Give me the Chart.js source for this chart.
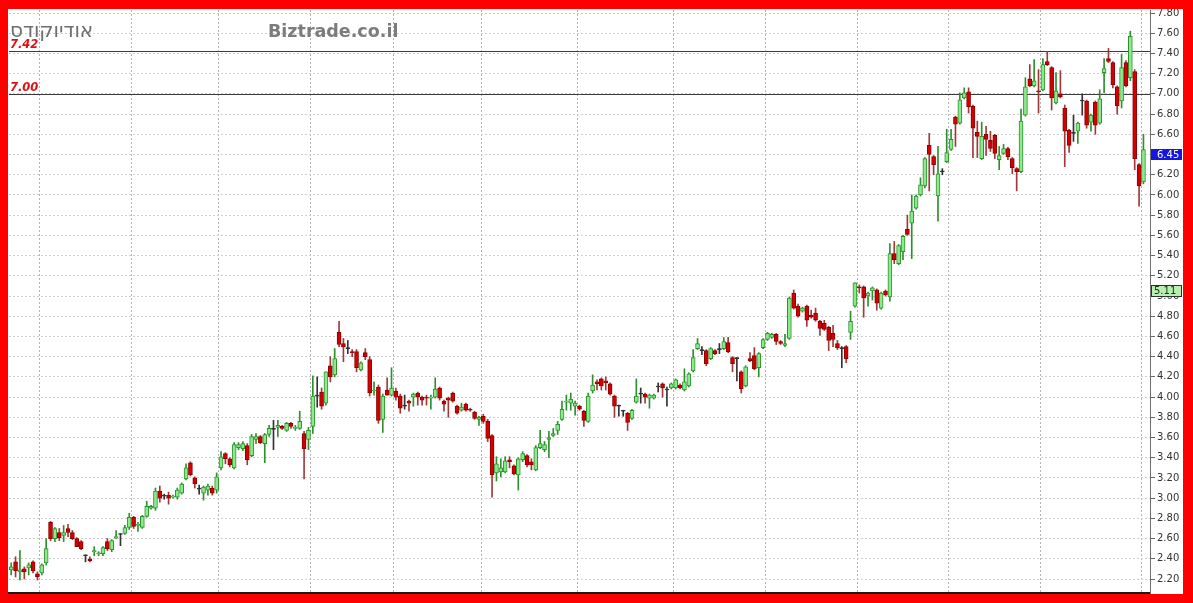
<!DOCTYPE html>
<html>
<head>
<meta charset="utf-8">
<script src="https://cdn.jsdelivr.net/npm/chart.js@4.4.1/dist/chart.umd.min.js"></script>
<style>
  html, body { margin: 0; padding: 0; }
  body { width: 1193px; height: 603px; background: #ff0000; position: relative; overflow: hidden; }
  #frame { position: absolute; left: 8px; top: 9px; width: 1175px; height: 585px; background: #fff; }
  #chart { position: absolute; left: 0; top: 0; }
  .title { position: absolute; top: 11px; font-size: 20px; line-height: 20px; color: #6e6e6e; font-family: "DejaVu Sans", sans-serif; white-space: nowrap; }
  #name { left: 2px; }
  #site { left: 260px; top: 12px; font-weight: bold; font-size: 17.5px; color: #7c7c7c; }
</style>
</head>
<body>
<div id="frame">
  <canvas id="chart" width="1175" height="585"></canvas>
  <div class="title" id="name" dir="rtl">אודיוקודס</div>
  <div class="title" id="site">Biztrade.co.il</div>
</div>
<script>
// daily candles, oldest first
const opens = [
  2.29,2.37,2.27,2.30,2.31,2.37,2.25,2.26,2.36,2.76, 2.60,2.66,2.63,2.70,2.66,2.60,2.57,2.43,2.40,2.47,
  2.45,2.45,2.57,2.49,2.61,2.64,2.65,2.71,2.81,2.73, 2.71,2.82,2.90,2.90,3.07,3.02,3.03,3.01,3.01,3.05,
  3.19,3.35,3.20,3.09,3.05,
  3.08,3.10,3.08,3.30,3.44,3.39,3.30,3.50,3.49,3.52, 3.42,3.58,3.61,3.54,3.63,3.68,3.70,3.71,3.67,3.74,
  3.69,3.69,3.64,3.58,3.71,4.01,4.05,3.94,4.31,4.22, 4.64,4.53,4.48,4.45,4.45,4.27,4.44,4.37,4.06,4.10,3.78,4.07,
  4.02,4.06,4.01,3.91,3.96,4.00,4.04,4.00,4.00,3.99, 4.00,4.09,3.96,3.99,4.04,3.91,3.87,3.93,3.88,3.85,
  3.78,3.81,3.76,3.62,3.25,3.26,3.26,3.38,3.32,3.23, 3.38,3.42,3.36,3.28,3.50,3.48,3.58,3.62,3.67,3.78,
  3.95,3.94,3.91,3.91,
  3.86,3.76,4.06,4.15,4.18,4.16,4.13,4.01,3.91,3.86, 3.84,3.79,3.95,4.03,4.03,3.99,3.99,4.10,4.13,4.07,
  4.09,4.09,4.12,4.07,4.11,4.26,4.48,4.46,4.46,4.38, 4.46,4.47,4.48,4.54,4.39,4.38,4.25,4.11,4.38,4.41,4.29,4.49,4.57,
  4.59,4.62,4.55,4.51,4.58,5.03,4.90,4.85,4.90,4.81, 4.83,4.75,4.73,4.69,4.63,4.53,4.48,4.50,4.64,4.90,
  5.09,5.09,5.00,5.05,5.06,4.88,5.05,4.99,5.42,5.32, 5.44,5.66,5.72,5.87,6.00,6.09,6.49,6.38,5.99,6.23,
  6.33,6.45,6.77,6.71,
  6.96,7.02,6.88,6.62,6.36,6.60,6.54,6.59,6.35,6.41, 6.46,6.36,6.26,6.23,6.79,7.15,7.08,7.03,7.04,7.32,
  7.26,6.91,7.00,6.86,6.64,6.61,6.63,6.93,6.93,6.72, 6.92,6.71,7.21,7.35,7.31,7.07,6.93,7.31,7.16,7.22,6.30,6.13
]
const highs = [
  2.36,2.42,2.48,2.32,2.36,2.38,2.27,2.35,2.60,2.77, 2.71,2.70,2.73,2.74,2.68,2.61,2.58,2.44,2.42,2.52,
  2.47,2.52,2.60,2.59,2.68,2.65,2.73,2.85,2.82,2.76, 2.83,2.97,2.93,3.10,3.12,3.04,3.06,3.03,3.10,3.15,
  3.34,3.36,3.21,3.13,3.12,
  3.14,3.12,3.25,3.46,3.45,3.40,3.55,3.55,3.56,3.54, 3.63,3.64,3.62,3.64,3.72,3.77,3.77,3.72,3.75,3.75,
  3.72,3.86,3.66,3.70,4.21,4.20,4.09,4.25,4.40,4.48, 4.75,4.58,4.56,4.47,4.47,4.35,4.48,4.40,4.15,4.12,4.03,4.19,
  4.29,4.09,4.03,4.02,3.97,4.04,4.05,4.01,4.02,4.02, 4.19,4.10,3.97,4.00,4.05,3.92,3.94,3.94,3.89,3.86,
  3.81,3.83,3.78,3.63,3.41,3.39,3.41,3.41,3.33,3.40, 3.46,3.43,3.39,3.52,3.67,3.56,3.66,3.69,3.76,3.96,
  4.02,4.04,3.96,3.92,
  3.87,4.04,4.22,4.17,4.19,4.20,4.14,4.02,3.92,3.87, 3.85,3.88,4.18,4.09,4.04,4.03,4.03,4.14,4.14,4.10,
  4.14,4.18,4.13,4.28,4.24,4.47,4.58,4.50,4.47,4.49, 4.47,4.53,4.59,4.59,4.40,4.39,4.26,4.31,4.44,4.49,4.44,4.58,4.64,
  4.63,4.63,4.56,4.62,4.99,5.06,4.92,4.89,4.91,4.86, 4.88,4.76,4.76,4.70,4.71,4.56,4.50,4.51,4.85,5.13,
  5.11,5.10,5.04,5.09,5.07,5.04,5.06,5.52,5.54,5.51, 5.60,5.80,6.00,6.00,6.17,6.37,6.61,6.39,6.48,6.26,
  6.65,6.65,6.78,7.01,
  7.06,7.06,6.89,6.73,6.72,6.68,6.63,6.60,6.48,6.50, 6.47,6.37,6.27,6.85,7.16,7.29,7.34,7.24,7.35,7.42,
  7.27,7.21,7.23,6.89,6.65,6.79,6.72,7.00,6.94,6.80, 6.93,7.04,7.35,7.45,7.32,7.08,7.39,7.33,7.62,7.24,6.31,6.60
]
const lows = [
  2.24,2.22,2.19,2.20,2.24,2.26,2.19,2.24,2.34,2.58, 2.57,2.58,2.57,2.62,2.59,2.52,2.49,2.37,2.37,2.43,
  2.43,2.43,2.48,2.47,2.60,2.53,2.64,2.69,2.70,2.67, 2.70,2.81,2.89,2.88,2.96,2.99,2.94,3.00,2.99,3.04,
  3.18,3.22,3.10,3.04,2.98,
  3.03,3.03,3.05,3.28,3.34,3.31,3.29,3.48,3.47,3.33, 3.41,3.54,3.54,3.35,3.61,3.48,3.61,3.68,3.66,3.69,
  3.67,3.68,3.19,3.48,3.64,3.90,3.88,3.92,4.15,4.20, 4.50,4.35,4.43,4.40,4.25,4.26,4.37,4.01,4.02,3.74,3.65,4.02,
  4.01,3.97,3.84,3.88,3.86,3.91,3.92,3.92,3.92,3.88, 3.99,3.97,3.86,3.80,3.95,3.83,3.86,3.86,3.86,3.78,
  3.72,3.74,3.56,3.01,3.17,3.21,3.25,3.30,3.23,3.08, 3.36,3.31,3.28,3.27,3.49,3.46,3.40,3.61,3.63,3.77,
  3.87,3.87,3.82,3.87,
  3.71,3.75,4.04,4.07,4.07,4.07,4.02,3.80,3.81,3.81, 3.67,3.78,3.94,3.94,3.94,3.89,3.98,4.05,4.00,3.91,
  4.08,4.08,4.08,4.06,4.10,4.25,4.47,4.42,4.31,4.37, 4.42,4.43,4.47,4.44,4.25,4.16,4.04,4.10,4.35,4.27,4.20,4.48,4.56,
  4.58,4.52,4.52,4.50,4.57,4.87,4.79,4.84,4.70,4.78, 4.75,4.61,4.66,4.46,4.50,4.47,4.29,4.34,4.57,4.89,
  5.03,4.79,4.90,4.96,4.86,4.87,5.00,4.95,5.32,5.31, 5.36,5.60,5.37,5.86,5.99,6.07,6.04,6.20,5.74,6.20,
  6.32,6.44,6.48,6.70,
  6.95,6.81,6.37,6.37,6.35,6.39,6.43,6.36,6.25,6.40, 6.35,6.21,6.04,6.22,6.78,7.07,7.07,6.81,7.03,7.28,
  6.84,6.90,6.96,6.28,6.42,6.53,6.51,6.79,6.66,6.63, 6.60,6.70,7.01,7.31,7.06,6.80,6.86,7.07,7.13,6.25,5.89,6.11
]
const closes = [
  2.32,2.28,2.29,2.27,2.34,2.28,2.22,2.34,2.50,2.60, 2.70,2.61,2.66,2.66,2.60,2.52,2.50,2.43,2.38,2.48,
  2.46,2.51,2.50,2.58,2.62,2.64,2.71,2.81,2.72,2.74, 2.82,2.92,2.92,3.07,3.00,3.02,3.00,3.02,3.08,3.14,
  3.30,3.23,3.14,3.09,3.11,
  3.12,3.05,3.21,3.41,3.39,3.33,3.53,3.53,3.54,3.38, 3.61,3.61,3.55,3.63,3.69,3.68,3.72,3.69,3.74,3.71,
  3.70,3.76,3.49,3.67,4.01,4.01,3.91,4.25,4.20,4.38, 4.52,4.50,4.48,4.44,4.29,4.34,4.40,4.04,4.07,3.77,4.01,4.02,
  4.09,4.00,3.89,3.91,3.94,4.03,4.00,3.97,3.99,4.00, 4.08,3.99,3.93,3.97,3.96,3.84,3.90,3.87,3.87,3.79,
  3.80,3.76,3.59,3.23,3.34,3.30,3.37,3.36,3.24,3.39, 3.44,3.33,3.33,3.50,3.54,3.53,3.60,3.64,3.73,3.88,
  3.96,3.98,3.94,3.88,
  3.77,4.01,4.12,4.13,4.11,4.14,4.03,3.91,3.91,3.86, 3.75,3.87,4.01,4.03,4.00,4.02,4.02,4.10,4.09,4.07,
  4.13,4.17,4.09,4.15,4.23,4.39,4.53,4.46,4.33,4.48, 4.43,4.47,4.55,4.45,4.33,4.38,4.08,4.30,4.36,4.28,4.43,4.57,4.63,
  4.62,4.55,4.53,4.53,4.98,4.88,4.80,4.88,4.76,4.79, 4.76,4.68,4.67,4.56,4.57,4.49,4.48,4.38,4.75,5.13,
  5.08,4.98,5.03,5.08,4.93,5.03,5.01,5.42,5.36,5.50, 5.59,5.61,5.84,5.99,6.10,6.36,6.40,6.30,6.21,6.23,
  6.42,6.55,6.70,6.94,
  7.01,6.87,6.66,6.58,6.58,6.55,6.46,6.41,6.39,6.46, 6.38,6.27,6.23,6.73,7.07,7.08,7.13,7.02,7.29,7.29,
  6.96,7.03,6.97,6.63,6.49,6.61,6.71,6.93,6.69,6.79, 6.69,6.95,7.25,7.32,7.09,6.88,7.26,7.08,7.57,6.36,6.09,6.45
]

// first trading day of each month (index into the candles)
const monthStarts = [7, 28, 48, 69, 88, 108, 130, 152, 173, 194, 215, 236, 259]
const yTicks = [2.2, 2.4, 2.6, 2.8, 3.0, 3.2, 3.4, 3.6, 3.8, 4.0, 4.2, 4.4, 4.6, 4.8, 5.0,
  5.2, 5.4, 5.6, 5.8, 6.0, 6.2, 6.4, 6.6, 6.8, 7.0, 7.2, 7.4, 7.6, 7.8]
const levelValues = [7.42, 7.00]
const markerValues = [6.45, 5.11]

// one spare slot keeps the last candle off the price axis
const days = opens.map((_, i) => String(i + 1)).concat([''])

const isUp = (i) => closes[i] > opens[i]
const isFlat = (i) => Math.abs(closes[i] - opens[i]) < 0.005

const wickColors = opens.map((_, i) => isFlat(i) ? '#333333' : (isUp(i) ? '#2f8f2f' : '#a03a3a'))
const bodyFill = opens.map((_, i) => isFlat(i) ? '#333333' : (isUp(i) ? '#8ee88e' : '#d20000'))
const bodyEdge = opens.map((_, i) => isFlat(i) ? '#333333' : (isUp(i) ? '#2a962a' : '#8e0000'))

// horizontal level lines, their red labels, and the value boxes on the axis
const priceMarks = {
  id: 'priceMarks',
  beforeDatasetsDraw(chart) {
    const { ctx, chartArea, scales } = chart
    ctx.save()
    levelValues.forEach(v => {
      const py = Math.round(scales.y.getPixelForValue(v)) + 0.5
      ctx.strokeStyle = '#3a3a3a'
      ctx.lineWidth = 1
      ctx.beginPath()
      ctx.moveTo(chartArea.left, py)
      ctx.lineTo(chartArea.right, py)
      ctx.stroke()
      ctx.fillStyle = '#e01010'
      ctx.font = 'italic bold 11.5px "DejaVu Sans"'
      ctx.textBaseline = 'alphabetic'
      ctx.fillText(v.toFixed(2), chartArea.left + 1, py - 4)
    })
    ctx.restore()
  },
  afterDraw(chart) {
    const { ctx, chartArea, scales } = chart
    const looks = [
      { fill: '#1616e0', edge: '#1616e0', text: '#ffffff', h: 11, tx: 6 },
      { fill: '#b6f0b0', edge: '#303030', text: '#143214', h: 12, tx: 3 }
    ]
    ctx.save()
    markerValues.forEach((v, i) => {
      const s = looks[i]
      const top = Math.round(scales.y.getPixelForValue(v))
      const x = chartArea.right + 1
      const w = chart.width - x - 1
      ctx.fillStyle = s.fill
      ctx.fillRect(x, top, w, s.h)
      ctx.strokeStyle = s.edge
      ctx.lineWidth = 1
      ctx.strokeRect(x + 0.5, top + 0.5, w - 1, s.h - 1)
      ctx.fillStyle = s.text
      ctx.font = '10px "DejaVu Sans"'
      ctx.textBaseline = 'middle'
      ctx.fillText(v.toFixed(2), x + s.tx, top + s.h / 2 + 0.5)
    })
    ctx.restore()
  }
}

new Chart(document.getElementById('chart'), {
  type: 'bar',
  data: {
    labels: days,
    datasets: [
      {
        label: 'range',
        data: lows.map((l, i) => [l, highs[i]]),
        backgroundColor: wickColors,
        barThickness: 1,
        grouped: false,
        order: 2
      },
      {
        label: 'body',
        data: opens.map((o, i) => [o, closes[i]]),
        backgroundColor: bodyFill,
        borderColor: bodyEdge,
        borderWidth: 1,
        borderSkipped: false,
        barThickness: 4,
        minBarLength: 1,
        grouped: false,
        order: 1
      }
    ]
  },
  options: {
    responsive: false,
    animation: false,
    layout: { padding: { left: 1, top: 1, right: 0, bottom: 1 } },
    plugins: {
      legend: { display: false },
      tooltip: { enabled: false }
    },
    scales: {
      x: {
        type: 'category',
        offset: true,
        ticks: { display: false, autoSkip: false },
        grid: {
          offset: true,
          drawTicks: false,
          color: (ctx) => monthStarts.includes(ctx.index) ? '#b4b4b4' : 'rgba(0,0,0,0)'
        },
        border: { display: true, color: '#1a1a1a', width: 2, dash: [2, 2] },
        afterFit: (scale) => { scale.height = 0 }
      },
      y: {
        position: 'right',
        min: 2.0615,
        max: 7.83,
        afterBuildTicks: (scale) => { scale.ticks = yTicks.map(v => ({ value: v })) },
        ticks: {
          padding: 2,
          color: '#333333',
          font: { family: 'DejaVu Sans', size: 10 },
          callback: (v) => Number(v).toFixed(2)
        },
        grid: {
          color: '#cfcfcf',
          tickLength: 5,
          tickColor: '#666666'
        },
        border: { display: true, color: '#707070', width: 1, dash: [2, 2] },
        afterFit: (scale) => {
          scale.width = 33
          scale.paddingTop = 0
          scale.paddingBottom = 0
        }
      }
    }
  },
  plugins: [priceMarks]
})
</script>
</body>
</html>
